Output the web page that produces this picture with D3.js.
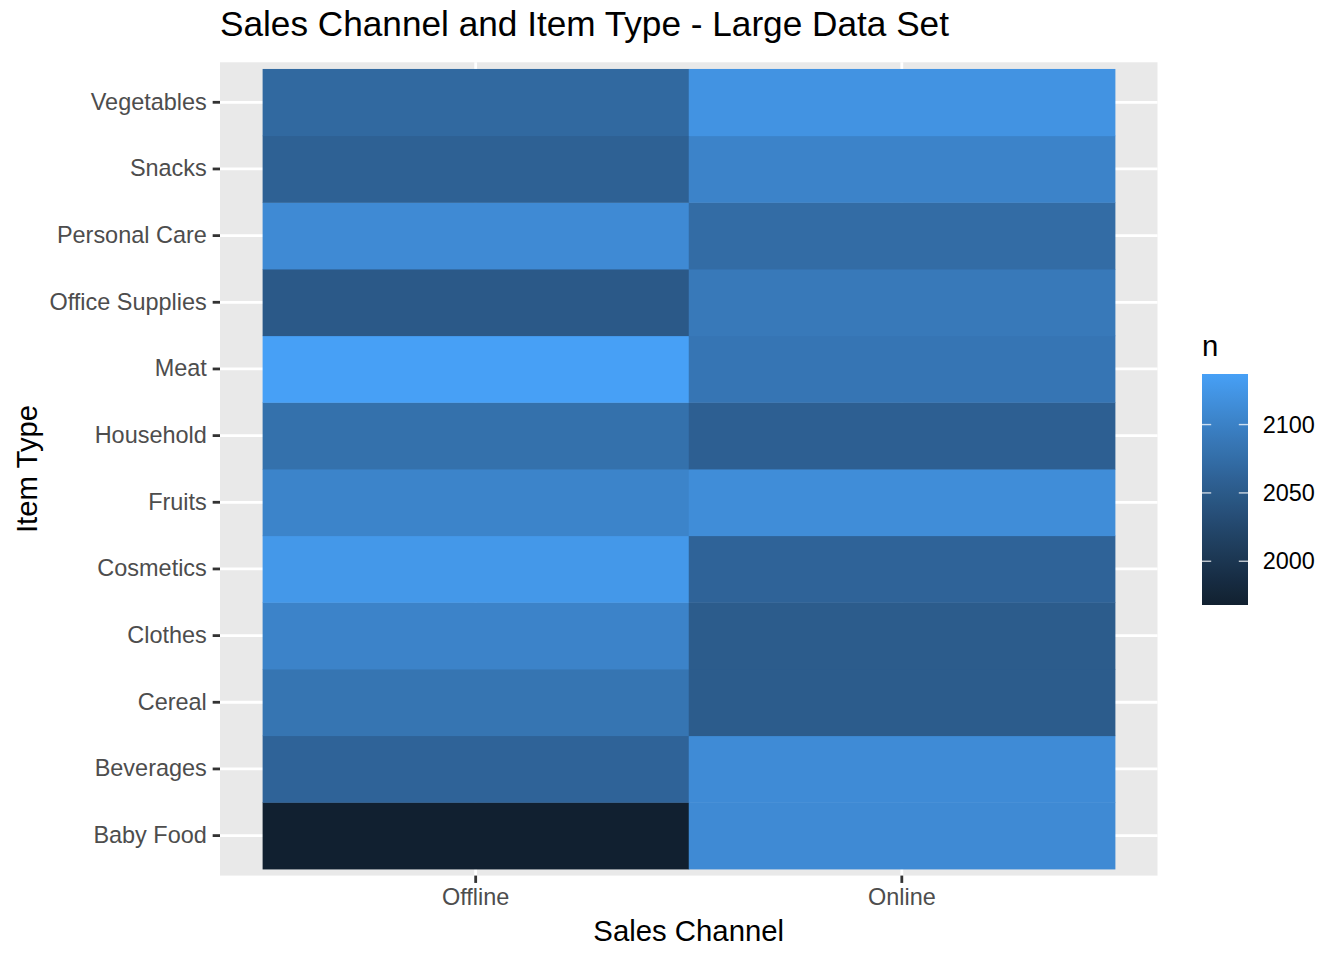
<!DOCTYPE html>
<html>
<head>
<meta charset="utf-8">
<script src="https://cdn.jsdelivr.net/npm/d3@7"></script>
<style>
  body { margin: 0; background: #fff; }
  svg { font-family: "Liberation Sans", Arial, Helvetica, sans-serif; }
</style>
</head>
<body>
<div id="chart"></div>
<script>

// counts per item type, alphabetical order (ggplot draws them bottom to top)
var itemTypes = ["Baby Food", "Beverages", "Cereal", "Clothes", "Cosmetics", "Fruits",
                 "Household", "Meat", "Office Supplies", "Personal Care", "Snacks", "Vegetables"];
var channels = ["Offline", "Online"];
var offlineCounts = [1968, 2062, 2084, 2102, 2127, 2103, 2079, 2137, 2049, 2111, 2059, 2069];
var onlineCounts  = [2111, 2112, 2052, 2052, 2062, 2114, 2057, 2085, 2089, 2073, 2102, 2122];
var legendTicks = [2000, 2050, 2100];

var width = 1344,
    height = 960,
    pt = 192 / 72;   // png was rendered at 192 dpi

var panel = { left: 220, right: 1157.5, top: 62.3, bottom: 875.6 };

// flatten into cells
var cells = [];
itemTypes.forEach(function(item, i) {
    cells.push({ item: item, channel: "Offline", n: offlineCounts[i] });
    cells.push({ item: item, channel: "Online", n: onlineCounts[i] });
});

var svg = d3.select("#chart").append("svg")
    .attr("width", width)
    .attr("height", height);

// discrete scales, ggplot expands 0.6 units each side (0.1 of a band beyond the tiles)
var x = d3.scaleBand()
    .domain(channels)
    .range([panel.left, panel.right])
    .paddingInner(0)
    .paddingOuter(0.1);

var y = d3.scaleBand()
    .domain(itemTypes.slice().reverse())
    .range([panel.top, panel.bottom])
    .paddingInner(0)
    .paddingOuter(0.1);

var nExtent = d3.extent(cells, function(d) { return d.n; });

// gradient ends as they show up in the png
var color = d3.scaleLinear()
    .domain(nExtent)
    .range(["#112030", "#47A0F6"])
    .interpolate(d3.interpolateLab);

// panel background + grid
svg.append("rect")
    .attr("x", panel.left)
    .attr("y", panel.top)
    .attr("width", panel.right - panel.left)
    .attr("height", panel.bottom - panel.top)
    .attr("fill", "#E9E9E9");

svg.append("g").selectAll("line.gy")
    .data(itemTypes)
    .enter().append("line")
    .attr("x1", panel.left)
    .attr("x2", panel.right)
    .attr("y1", function(d) { return y(d) + y.bandwidth() / 2; })
    .attr("y2", function(d) { return y(d) + y.bandwidth() / 2; })
    .attr("stroke", "#fff")
    .attr("stroke-width", 2.8);

svg.append("g").selectAll("line.gx")
    .data(channels)
    .enter().append("line")
    .attr("y1", panel.top)
    .attr("y2", panel.bottom)
    .attr("x1", function(d) { return x(d) + x.bandwidth() / 2; })
    .attr("x2", function(d) { return x(d) + x.bandwidth() / 2; })
    .attr("stroke", "#fff")
    .attr("stroke-width", 2.8);

// tiles
svg.append("g").selectAll("rect")
    .data(cells)
    .enter().append("rect")
    .attr("x", function(d) { return x(d.channel); })
    .attr("y", function(d) { return y(d.item); })
    .attr("width", x.bandwidth() + 0.5)
    .attr("height", y.bandwidth() + 0.5)
    .attr("fill", function(d) { return color(d.n); });

// axes
var tickLen = 2.75 * pt,
    tickPad = 2.2 * pt;

var yAxis = svg.append("g")
    .attr("transform", "translate(" + panel.left + ",0)")
    .call(d3.axisLeft(y).tickSize(tickLen).tickPadding(tickPad));

var xAxis = svg.append("g")
    .attr("transform", "translate(0," + panel.bottom + ")")
    .call(d3.axisBottom(x).tickSize(tickLen).tickPadding(tickPad));

[xAxis, yAxis].forEach(function(ax) {
    ax.select(".domain").remove();
    ax.selectAll(".tick line").attr("stroke", "#333333").attr("stroke-width", 2.8);
    ax.selectAll(".tick text")
        .attr("fill", "#4D4D4D")
        .style("font-size", (8.8 * pt) + "px")
        .style("font-family", "Liberation Sans, Arial, sans-serif");
});

// titles
svg.append("text")
    .attr("x", 220)
    .attr("y", 36)
    .style("font-size", (13.2 * pt) + "px")
    .text("Sales Channel and Item Type - Large Data Set");

svg.append("text")
    .attr("x", (panel.left + panel.right) / 2)
    .attr("y", 941)
    .attr("text-anchor", "middle")
    .style("font-size", (11 * pt) + "px")
    .text("Sales Channel");

svg.append("text")
    .attr("transform", "translate(36.5," + ((panel.top + panel.bottom) / 2) + ") rotate(-90)")
    .attr("text-anchor", "middle")
    .style("font-size", (11 * pt) + "px")
    .text("Item Type");

// legend colourbar
var bar = { x: 1202, top: 374, bottom: 605, w: 46 };

var grad = svg.append("defs").append("linearGradient")
    .attr("id", "ngrad")
    .attr("x1", 0).attr("y1", 1)
    .attr("x2", 0).attr("y2", 0);

d3.range(0, 1.0001, 0.05).forEach(function(t) {
    grad.append("stop")
        .attr("offset", t)
        .attr("stop-color", color(nExtent[0] + t * (nExtent[1] - nExtent[0])));
});

svg.append("text")
    .attr("x", bar.x)
    .attr("y", 356)
    .style("font-size", (11 * pt) + "px")
    .text("n");

svg.append("rect")
    .attr("x", bar.x)
    .attr("y", bar.top)
    .attr("width", bar.w)
    .attr("height", bar.bottom - bar.top)
    .attr("fill", "url(#ngrad)");

var ly = d3.scaleLinear()
    .domain(nExtent)
    .range([bar.bottom, bar.top]);

var lt = svg.append("g").selectAll("g")
    .data(legendTicks)
    .enter().append("g")
    .attr("transform", function(d) { return "translate(0," + ly(d) + ")"; });

lt.append("line")
    .attr("x1", bar.x).attr("x2", bar.x + bar.w / 5)
    .attr("stroke", "#fff").attr("stroke-opacity", 0.75).attr("stroke-width", 1.4);
lt.append("line")
    .attr("x1", bar.x + bar.w).attr("x2", bar.x + bar.w * 4 / 5)
    .attr("stroke", "#fff").attr("stroke-opacity", 0.75).attr("stroke-width", 1.4);
lt.append("text")
    .attr("x", bar.x + bar.w + 14.7)
    .attr("dy", "0.35em")
    .style("font-size", (8.8 * pt) + "px")
    .text(function(d) { return d; });

</script>
</body>
</html>
